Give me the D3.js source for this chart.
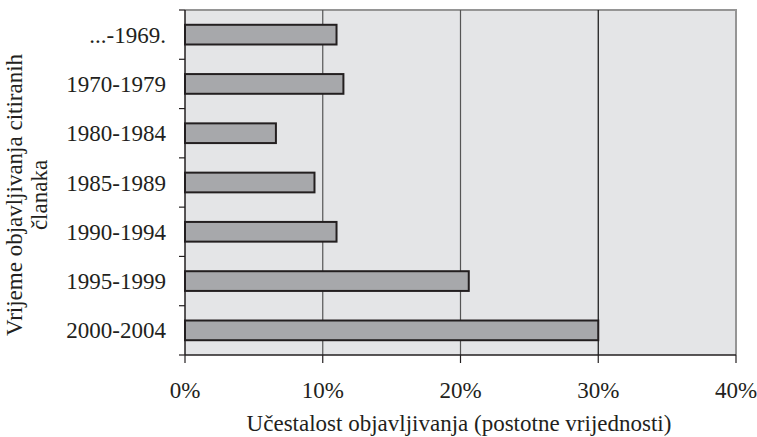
<!DOCTYPE html>
<html>
<head>
<meta charset="utf-8">
<script src="https://cdn.jsdelivr.net/npm/d3@7"></script>
<style>
  body { margin: 0; background: #fff; }
  text { font-family: "Liberation Serif", "DejaVu Serif", serif; fill: #231f20; }
</style>
</head>
<body>
<svg id="chart" width="757" height="437"></svg>
<script>
// data
const periods = ["...-1969.", "1970-1979", "1980-1984", "1985-1989", "1990-1994", "1995-1999", "2000-2004"]
const shares = [11.0, 11.5, 6.6, 9.4, 11.0, 20.6, 30.0]
const xTicks = [0, 10, 20, 30, 40]
const xTitle = "Učestalost objavljivanja (postotne vrijednosti)"
const yTitle = ["Vrijeme objavljivanja citiranih", "članaka"]

const svg = d3.select("#chart")
const pLeft = 185, pRight = 736, pTop = 10, pBottom = 355
const fs = 23

const x = d3.scaleLinear().domain([0, 40]).range([pLeft, pRight])
const y = d3.scaleBand().domain(periods).range([pTop, pBottom]).paddingInner(0.6).paddingOuter(0.3)
const yb = d3.scaleBand().domain(periods).range([pTop, pBottom])

// plot background
svg.append("rect")
  .attr("x", pLeft).attr("y", pTop)
  .attr("width", pRight - pLeft).attr("height", pBottom - pTop)
  .attr("fill", "#e4e5e7")

// frame top + right (grey)
svg.append("path")
  .attr("d", `M${pLeft},${pTop}H${pRight}V${pBottom}`)
  .attr("fill", "none").attr("stroke", "#959595").attr("stroke-width", 2)

// vertical grid
svg.append("g").selectAll("line")
  .data(xTicks.slice(1, -1))
  .enter().append("line")
  .attr("x1", d => x(d)).attr("x2", d => x(d))
  .attr("y1", pTop).attr("y2", pBottom)
  .attr("stroke", (d, i) => i == 2 ? "#111" : "#555")
  .attr("stroke-width", 1.2)

// bars
svg.append("g").selectAll("rect")
  .data(periods)
  .enter().append("rect")
  .attr("x", x(0))
  .attr("y", d => y(d))
  .attr("width", (d, i) => x(shares[i]) - x(0))
  .attr("height", y.bandwidth())
  .attr("fill", "#a7a8ab")
  .attr("stroke", "#231f20")
  .attr("stroke-width", 2)

// y axis
const yAxis = svg.append("g").attr("transform", `translate(${pLeft},0)`)
yAxis.append("line").attr("x1", 0).attr("x2", 0).attr("y1", pTop).attr("y2", pBottom)
  .attr("stroke", "#231f20").attr("stroke-width", 1.5)
const yEdges = periods.map(p => yb(p)).concat([pBottom])
yAxis.selectAll("line.tk").data(yEdges).enter().append("line")
  .attr("class", "tk")
  .attr("x1", -6).attr("x2", 0)
  .attr("y1", d => d).attr("y2", d => d)
  .attr("stroke", "#231f20").attr("stroke-width", 1.2)
yAxis.selectAll("text").data(periods).enter().append("text")
  .attr("x", -19)
  .attr("y", d => yb(d) + yb.bandwidth() / 2)
  .attr("dy", "0.35em")
  .attr("text-anchor", "end")
  .attr("font-size", fs)
  .text(d => d)

// x axis
const xAxis = svg.append("g")
xAxis.append("line").attr("x1", pLeft).attr("x2", pRight).attr("y1", pBottom).attr("y2", pBottom)
  .attr("stroke", "#231f20").attr("stroke-width", 1.5)
xAxis.selectAll("line.tk").data(xTicks).enter().append("line")
  .attr("class", "tk")
  .attr("x1", d => x(d)).attr("x2", d => x(d))
  .attr("y1", pBottom).attr("y2", pBottom + 8)
  .attr("stroke", "#231f20").attr("stroke-width", 1.2)
xAxis.selectAll("text").data(xTicks).enter().append("text")
  .attr("x", d => x(d))
  .attr("y", 398)
  .attr("text-anchor", "middle")
  .attr("font-size", fs)
  .text(d => d + "%")

// axis titles
svg.append("text")
  .attr("x", 459)
  .attr("y", 431)
  .attr("text-anchor", "middle")
  .attr("font-size", fs)
  .text(xTitle)

svg.append("g")
  .attr("transform", "translate(22,195) rotate(-90)")
  .selectAll("text").data(yTitle).enter().append("text")
  .attr("x", 0)
  .attr("y", (d, i) => i * 25)
  .attr("text-anchor", "middle")
  .attr("font-size", fs)
  .text(d => d)
</script>
</body>
</html>
